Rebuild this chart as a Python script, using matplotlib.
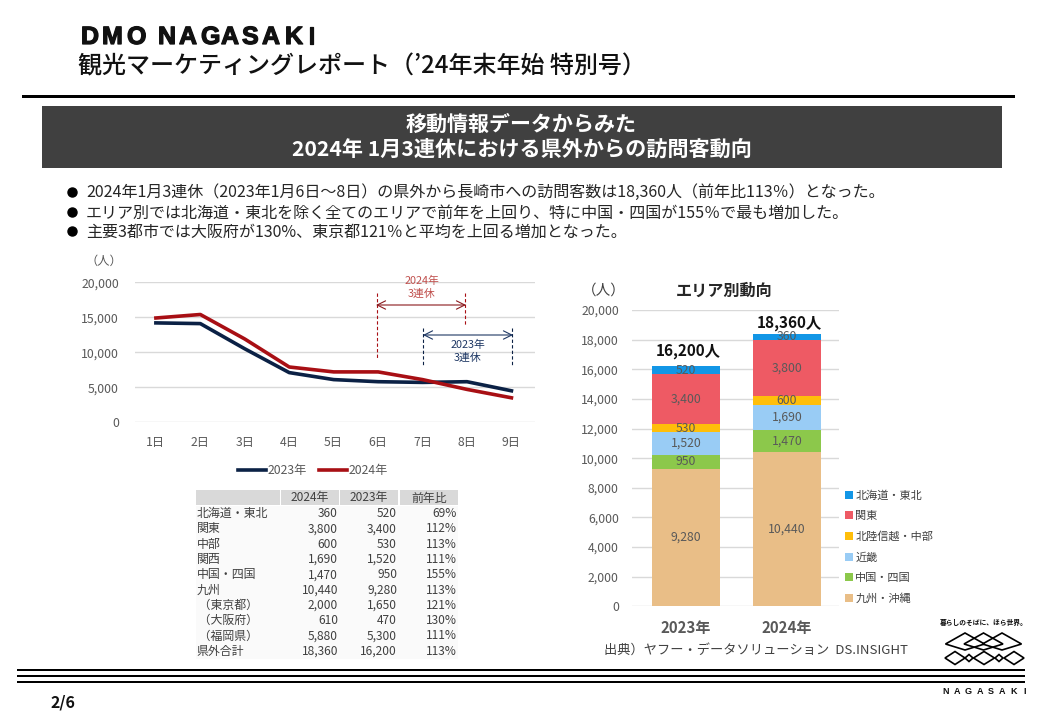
import matplotlib
matplotlib.use("Agg")
import matplotlib.pyplot as plt
import matplotlib.patheffects as pe
from matplotlib.patches import Rectangle, Polygon

plt.rcParams['font.family'] = ['Noto Sans CJK JP', 'DejaVu Sans']

days = ['1日','2日','3日','4日','5日','6日','7日','8日','9日']
visits_2023 = [14200,14100,10500,7100,6100,5800,5700,5800,4500]
visits_2024 = [14900,15400,11900,7900,7200,7200,6100,4700,3500]

years = ['2023年','2024年']
areas = ['九州・沖縄','中国・四国','近畿','北陸信越・中部','関東','北海道・東北']
area_2023 = [9280,950,1520,530,3400,520]
area_2024 = [10440,1470,1690,600,3800,360]
area_colors = ['#E9BE87','#8CC84B','#99CCF5','#FFBE0A','#EE5A64','#1296E6']
totals = ['16,200人','18,360人']

table_head = ['2024年','2023年','前年比']
table_rows = ['北海道・東北','関東','中部','関西','中国・四国','九州',' （東京都）',' （大阪府）',' （福岡県）','県外合計']
table_2024 = ['360','3,800','600','1,690','1,470','10,440','2,000','610','5,880','18,360']
table_2023 = ['520','3,400','530','1,520','950','9,280','1,650','470','5,300','16,200']
table_ratio = ['69%','112%','113%','111%','155%','113%','121%','130%','111%','113%']

bullets = ['2024年1月3連休（2023年1月6日～8日）の県外から長崎市への訪問客数は18,360人（前年比113％）となった。',
           'エリア別では北海道・東北を除く全てのエリアで前年を上回り、特に中国・四国が155％で最も増加した。',
           '主要3都市では大阪府が130%、東京都121％と平均を上回る増加となった。']

W, H = 1040, 720
fig = plt.figure(figsize=(W/100, H/100), dpi=100, facecolor='white')
bg = fig.add_axes([0,0,1,1], zorder=0)
bg.set_xlim(0,W); bg.set_ylim(H,0); bg.axis('off')

def px_axes(x0,y0,x1,y1,z=2):
    ax = fig.add_axes([x0/W,1-y1/H,(x1-x0)/W,(y1-y0)/H], zorder=z)
    ax.patch.set_alpha(0)
    return ax

# header
for ch,xp in zip('DMONAGASAKI',[81,102,127,158,179,201,221,242,262,285,308]):
    bg.text(xp,37,ch,fontsize=18,fontweight='bold',family='Liberation Sans',va='center',ha='left',color='#111111',
            path_effects=[pe.withStroke(linewidth=0.9,foreground='#111111')])
bg.text(78,66.5,'観光マーケティングレポート（’24年末年始 特別号）',fontsize=17.3,fontweight='medium',va='center',color='#111111')
bg.add_patch(Rectangle((22,95),993,3,color='black',lw=0))
bg.add_patch(Rectangle((42,106),960,62,color='#404040',lw=0))
bg.text(521,124.5,'移動情報データからみた',color='white',fontsize=15.1,fontweight='bold',ha='center',va='center')
bg.text(522,149.5,'2024年 1月3連休における県外からの訪問客動向',color='white',fontsize=15.2,fontweight='bold',ha='center',va='center')
for y,t in zip([192,212,231],bullets):
    bg.plot([72],[y],'o',ms=6.5,color='black')
    bg.text(86,y+0.8,t,fontsize=11.55,color='#262626',va='center')

# line chart
ax = px_axes(135,282.3,535,422.3)
x = range(len(days))
ax.plot(x,visits_2023,color='#0B2145',lw=2.6,label='2023年',solid_joinstyle='round')
ax.plot(x,visits_2024,color='#A80F14',lw=2.6,label='2024年',solid_joinstyle='round')
ax.set_xlim(-0.47,8.53); ax.set_ylim(0,20000)
ax.set_yticks(range(0,20001,5000)); ax.set_yticklabels([f'{v:,}' for v in range(0,20001,5000)])
ax.set_xticks(list(x)); ax.set_xticklabels(days)
ax.grid(axis='y',color='#D9D9D9',lw=1); ax.set_axisbelow(True)
for s in ax.spines.values(): s.set_visible(False)
ax.tick_params(length=0,labelsize=8.8,labelcolor='#595959')
ax.tick_params(axis='x',pad=10)
ax.tick_params(axis='y',pad=11.5)
ax.legend(loc='upper center',bbox_to_anchor=(0.445,-0.262),ncol=2,frameon=False,fontsize=8.8,labelcolor='#595959',
          handlelength=2.25,handletextpad=0.15,columnspacing=1.0,borderaxespad=0)
bg.text(104,261,'（人）',fontsize=8.8,color='#595959',ha='center',va='center')

# annotations (px overlay)
top = fig.add_axes([0,0,1,1],zorder=5); top.set_xlim(0,W); top.set_ylim(H,0); top.axis('off'); top.patch.set_alpha(0)
red,navy = '#A80F14','#0B2145'
top.plot([377,377],[293,359],color=red,ls=(0,(3,2)),lw=0.8)
top.plot([465,465],[293,326],color=red,ls=(0,(3,2)),lw=0.8)
top.plot([423,423],[328,366],color=navy,ls=(0,(3,2)),lw=0.8)
top.plot([512,512],[328,366],color=navy,ls=(0,(3,2)),lw=0.8)
top.annotate('',xy=(466,305),xytext=(376,305),arrowprops=dict(arrowstyle='<->,head_length=0.6,head_width=0.3',color='#8B1A1E',lw=0.8,shrinkA=0,shrinkB=0))
top.annotate('',xy=(513,335),xytext=(423,335),arrowprops=dict(arrowstyle='<->,head_length=0.6,head_width=0.3',color='#1F3864',lw=0.8,shrinkA=0,shrinkB=0))
top.text(422,287,'2024年\n3連休',color='#C0504D',fontsize=7.8,ha='center',va='center',linespacing=1.3)
top.text(468,351,'2023年\n3連休',color='#1F3864',fontsize=7.8,ha='center',va='center',linespacing=1.3)

# table
cols = [(196,280),(281,339),(340,398),(400,458)]
bg.add_patch(Rectangle((196,490),84,15,color='#D9D9D9',lw=0))
for (a,b),t in zip(cols[1:],table_head):
    bg.add_patch(Rectangle((a,490),b-a,15,color='#D9D9D9',lw=0))
    bg.text((a+b)/2,498,t,fontsize=8.6,color='#404040',ha='center',va='center')
bg.add_patch(Rectangle((196,505.5),262,153,color='#FAFAFA',lw=0))
for i,r in enumerate(table_rows):
    y = 513.5+i*15.3
    bg.text(196.5,y,r,fontsize=8.6,color='#404040',va='center')
    for (a,b),t in zip(cols[1:],(table_2024[i],table_2023[i],table_ratio[i])):
        bg.text(b-1,y,t,fontsize=8.6,color='#404040',va='center',ha='right')

# stacked bars
bx = px_axes(632,310,839,606.3)
bottoms = [0,0]
for vals,name,c in zip(zip(area_2023,area_2024),areas,area_colors):
    cont = bx.bar(years,vals,0.673,bottom=bottoms,color=c,label=name,lw=0)
    for rect,v,b in zip(cont,vals,bottoms):
        bx.text(rect.get_x()+rect.get_width()/2,b+v/2,f'{v:,}',ha='center',va='center',fontsize=8.8,color='#595959')
    bottoms = [b+v for b,v in zip(bottoms,vals)]
for i,(b,t,off) in enumerate(zip(bottoms,totals,(520,250))):
    bx.text(i+0.02,b+off,t,ha='center',va='bottom',fontsize=11,fontweight='bold',color='#111111')
bx.set_xlim(-0.535,1.515); bx.set_ylim(0,20000)
bx.set_yticks(range(0,20001,2000)); bx.set_yticklabels([f'{v:,}' for v in range(0,20001,2000)])
bx.grid(axis='y',color='#D9D9D9',lw=1); bx.set_axisbelow(True)
for s in bx.spines.values(): s.set_visible(False)
bx.tick_params(length=0,labelsize=8.8,labelcolor='#595959')
bx.tick_params(axis='y',pad=9.5)
bx.tick_params(axis='x',labelsize=10.8,pad=10)
for l in bx.get_xticklabels(): l.set_fontweight('bold')
h,l = bx.get_legend_handles_labels()
bx.legend(h[::-1],l[::-1],loc='lower left',bbox_to_anchor=(1.03,0.0085),frameon=False,fontsize=8,labelcolor='#404040',
          handlelength=0.7,handleheight=0.7,handletextpad=0.2,labelspacing=0.92,borderaxespad=0,borderpad=0)
bg.text(604,291,'（人）',fontsize=10.5,color='#404040',ha='center',va='center')
bg.text(724,291,'エリア別動向',fontsize=11.6,fontweight='bold',color='#262626',ha='center',va='center')
bg.text(604,650.5,'出典）ヤフー・データソリューション  DS.INSIGHT',fontsize=9.5,color='#404040',va='center')

# footer
for y,t in ((670,1.3),(676,1.3),(682,1.8)):
    bg.add_patch(Rectangle((17,y-t/2),1008,t,color='black',lw=0))
bg.text(63,702,'2/6',fontsize=11.5,fontweight='bold',ha='center',va='center',color='#111111')

# logo
bg.text(984,622,'暮らしのそばに、ほら世界。',fontsize=4.9,fontweight='bold',ha='center',va='center',color='#111111')
def dia(cx,cy,w,up,down,lw=1.2):
    bg.add_patch(Polygon([(cx-w/2,cy),(cx,cy-up),(cx+w/2,cy),(cx,cy+down)],fc='none',ec='black',lw=lw))
for cx in (965,983.5,1002):
    dia(cx,644,39,11,6)
for cx,w in zip((955,969,984,999,1014),(20,8,21,8,20)):
    dia(cx,658,w,6.5 if w>10 else 3.5,6.5 if w>10 else 3.5)
for ch,xx in zip('NAGASAKI',[946+11.2*i for i in range(8)]):
    bg.text(xx,692,ch,fontsize=6.5,fontweight='bold',family='Liberation Sans',ha='center',va='center',color='#111111')

fig.savefig('out.png',dpi=100)
